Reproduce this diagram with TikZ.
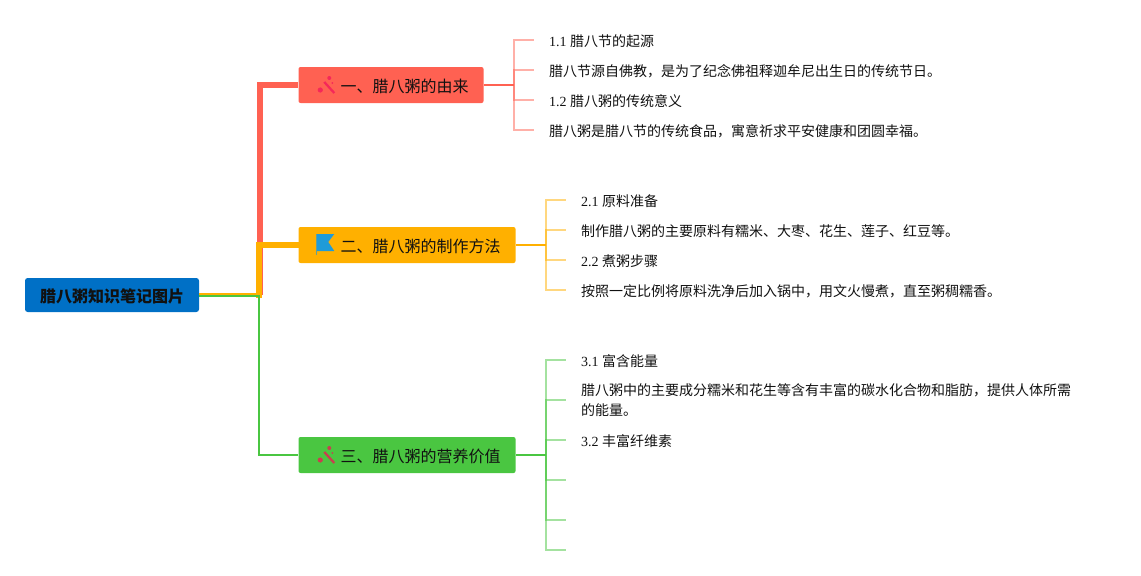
\documentclass[tikz,border=0pt]{standalone}
\usepackage{fontspec}
\setmainfont{Liberation Serif}
\newfontfamily\cjk{Noto Sans CJK SC}
\usetikzlibrary{positioning}
\definecolor{rootblue}{HTML}{0070C6}
\definecolor{mapred}{HTML}{FF6152}
\definecolor{maporange}{HTML}{FFB000}
\definecolor{mapgreen}{HTML}{4AC641}
\definecolor{flagblue}{HTML}{1F9BD8}
\definecolor{wandpink}{HTML}{F5285A}
\definecolor{wandrust}{HTML}{C8404F}
\definecolor{inktext}{HTML}{111111}
\tikzset{
  wandicon/.pic={
    \draw[line width=1.7pt,color=#1] (26,-3) -- (36,8);
    \fill[color=#1] (22,5) circle (2.6);
    \fill[color=#1] (31,-7) circle (2);
    \fill[color=#1] (34,-2) circle (1);
  },
  flagicon/.pic={
    \fill[flagblue] (18,-11) -- (36,-11) -- (30,-3) -- (36,6) -- (18,6) -- cycle;
    \draw[line width=.8pt,color=flagblue!70!maporange] (18,-11) -- (18,10);
  }
}
\begin{document}
\begin{tikzpicture}[
  x=.75pt,y=-.75pt,
  rootbox/.style={fill=rootblue,rounded corners=2pt,minimum width=130.5pt,minimum height=25.5pt,
    inner xsep=11.25pt,inner ysep=0pt,text=inktext,font=\fontsize{12}{14}\cjk\bfseries,
    execute at begin node={\rule{0pt}{12.1pt}}},
  topicbox/.style={fill=#1,rounded corners=1.5pt,minimum height=27pt,inner xsep=11.25pt,
    inner ysep=0pt,text=inktext,font=\fontsize{12}{14}\cjk,
    execute at begin node={\rule{0pt}{12.1pt}}},
  leaf/.style={inner xsep=11.25pt,inner ysep=0pt,align=left,text=inktext,
    font=\fontsize{10.5}{15}\selectfont,execute at begin node={\rule{0pt}{10.7pt}}},
  trunk/.style={line width=#1,line join=miter},
  sublink/.style={line width=1.5pt,color=#1},
  stub/.style={line width=1.5pt,color=#1,opacity=.5}
]
\useasboundingbox (0,0) rectangle (1141,575);
\node[rootbox] (root) at (112,295) {腊八粥知识笔记图片};
\node[topicbox=mapred,above right=157.5pt and 74.25pt of root.east,anchor=west] (topicone) {\hspace*{20.25pt}一、腊八粥的由来};
\node[topicbox=maporange,above right=37.5pt and 74.25pt of root.east,anchor=west] (topictwo) {\hspace*{20.25pt}二、腊八粥的制作方法};
\node[topicbox=mapgreen,below right=120pt and 74.25pt of root.east,anchor=west] (topicthree) {\hspace*{20.25pt}三、腊八粥的营养价值};
\coordinate[right=45pt of root.east] (trunkpt);
% main branches
\draw[trunk=4.5pt,color=mapred] ([xshift=.75pt]trunkpt) |- (topicone.west);
\draw[trunk=4.2pt,color=maporange,line cap=rect] (trunkpt) |- (topictwo.west);
\draw[line width=2.25pt,color=maporange] ([yshift=.6pt]root.east) -- ([yshift=.6pt]trunkpt);
\draw[trunk=1.5pt,color=mapgreen] ([yshift=-.6pt]root.east) -- ([yshift=-.6pt]trunkpt) |- (topicthree.west);
% first group
\node[leaf,above right=33.75pt and 37.5pt of topicone.east,anchor=west] (leafa) {1.1 {\cjk 腊八节的起源}};
\node[leaf,below=22.5pt of leafa.west,anchor=west] (leafb) {\cjk 腊八节源自佛教，是为了纪念佛祖释迦牟尼出生日的传统节日。};
\node[leaf,below=22.5pt of leafb.west,anchor=west] (leafc) {1.2 {\cjk 腊八粥的传统意义}};
\node[leaf,below=22.5pt of leafc.west,anchor=west] (leafd) {\cjk 腊八粥是腊八节的传统食品，寓意祈求平安健康和团圆幸福。};
\coordinate[right=22.5pt of topicone.east] (elbowone);
\draw[sublink=mapred] (topicone.east) -- (elbowone);
\draw[stub=mapred] (elbowone) |- (leafa.west);
\draw[stub=mapred] (elbowone) |- (leafb.west);
\draw[stub=mapred] (elbowone) |- (leafc.west);
\draw[stub=mapred] (elbowone) |- (leafd.west);
% second group
\node[leaf,above right=33.75pt and 37.5pt of topictwo.east,anchor=west] (leafe) {2.1 {\cjk 原料准备}};
\node[leaf,below=22.5pt of leafe.west,anchor=west] (leaff) {\cjk 制作腊八粥的主要原料有糯米、大枣、花生、莲子、红豆等。};
\node[leaf,below=22.5pt of leaff.west,anchor=west] (leafg) {2.2 {\cjk 煮粥步骤}};
\node[leaf,below=22.5pt of leafg.west,anchor=west] (leafh) {\cjk 按照一定比例将原料洗净后加入锅中，用文火慢煮，直至粥稠糯香。};
\coordinate[right=22.5pt of topictwo.east] (elbowtwo);
\draw[sublink=maporange] (topictwo.east) -- (elbowtwo);
\draw[stub=maporange] (elbowtwo) |- (leafe.west);
\draw[stub=maporange] (elbowtwo) |- (leaff.west);
\draw[stub=maporange] (elbowtwo) |- (leafg.west);
\draw[stub=maporange] (elbowtwo) |- (leafh.west);
% third group
\node[leaf,above right=71.25pt and 37.5pt of topicthree.east,anchor=west] (leafi) {3.1 {\cjk 富含能量}};
\node[leaf,below=30pt of leafi.west,anchor=west] (leafj) {\cjk 腊八粥中的主要成分糯米和花生等含有丰富的碳水化合物和脂肪，提供人体所需\\\cjk 的能量。};
\node[leaf,below=30pt of leafj.west,anchor=west] (leafk) {3.2 {\cjk 丰富纤维素}};
\coordinate[below=30pt of leafk.west] (leafl);
\coordinate[below=30pt of leafl] (leafm);
\coordinate[below=22.5pt of leafm] (leafn);
\coordinate[right=22.5pt of topicthree.east] (elbowthree);
\draw[sublink=mapgreen] (topicthree.east) -- (elbowthree);
\draw[stub=mapgreen] (elbowthree) |- (leafi.west);
\draw[stub=mapgreen] (elbowthree) |- (leafj.west);
\draw[stub=mapgreen] (elbowthree) |- (leafk.west);
\draw[stub=mapgreen] (elbowthree) |- (leafl);
\draw[stub=mapgreen] (elbowthree) |- (leafm);
\draw[stub=mapgreen] (elbowthree) |- (leafn);
% icons
\pic at (topicone.west) {wandicon=wandpink};
\pic at (topictwo.west) {flagicon};
\pic at (topicthree.west) {wandicon=wandrust};
\end{tikzpicture}
\end{document}
